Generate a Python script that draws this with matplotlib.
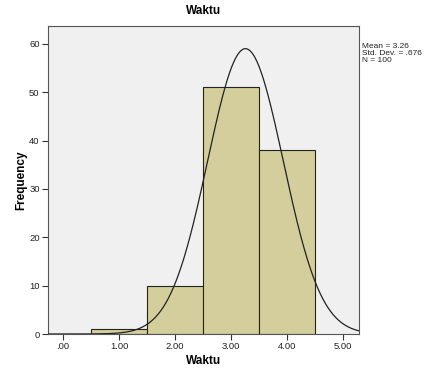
import numpy as np
import matplotlib
matplotlib.use("Agg")
import matplotlib.pyplot as plt

# Data
bin_edges = [0.5, 1.5, 2.5, 3.5, 4.5]
counts = [1, 10, 51, 38]
mean = 3.26
std = 0.676
n = 100
xticks = [0, 1, 2, 3, 4, 5]
xtick_labels = [".00", "1.00", "2.00", "3.00", "4.00", "5.00"]
yticks = [0, 10, 20, 30, 40, 50, 60]

plt.rcParams['font.family'] = ['Liberation Sans', 'DejaVu Sans']

fig = plt.figure(figsize=(4.25, 3.71), dpi=100)
ax = fig.add_axes([48/425, 1 - 334/371, (359-48)/425, (334-26)/371])
ax.set_facecolor('#f0f0f0')

widths = np.diff(bin_edges)
ax.bar(bin_edges[:-1], counts, width=widths, align='edge',
       color='#d3ce9b', edgecolor='#222222', linewidth=0.8, zorder=2)

xs = np.linspace(-0.3, 5.4, 500)
bw = widths[0]
ys = n * bw / (std * np.sqrt(2 * np.pi)) * np.exp(-0.5 * ((xs - mean) / std) ** 2)
ax.plot(xs, ys, color='#222222', linewidth=0.9, zorder=3)

ax.set_xlim(-0.27, 5.29)
ax.set_ylim(0, 63.7)
ax.set_xticks(xticks)
ax.set_xticklabels(xtick_labels)
ax.set_yticks(yticks)
ax.tick_params(axis='both', labelsize=6.8, length=4, width=0.8, color='#333333', labelcolor='#222222', pad=2)
for s in ax.spines.values():
    s.set_color('#555555')
    s.set_linewidth(0.8)

ax.set_title("Waktu", fontsize=8.5, fontweight='bold', pad=9)
ax.set_xlabel("Waktu", fontsize=8.5, fontweight='bold', labelpad=3)
ax.set_ylabel("Frequency", fontsize=8.5, fontweight='bold', labelpad=1)

fig.text(362/425, 1 - 43/371, "Mean = 3.26\nStd. Dev. = .676\nN = 100",
         fontsize=6, va='top', ha='left', linespacing=0.95, color='#222222')

fig.savefig("out.png", dpi=100)
